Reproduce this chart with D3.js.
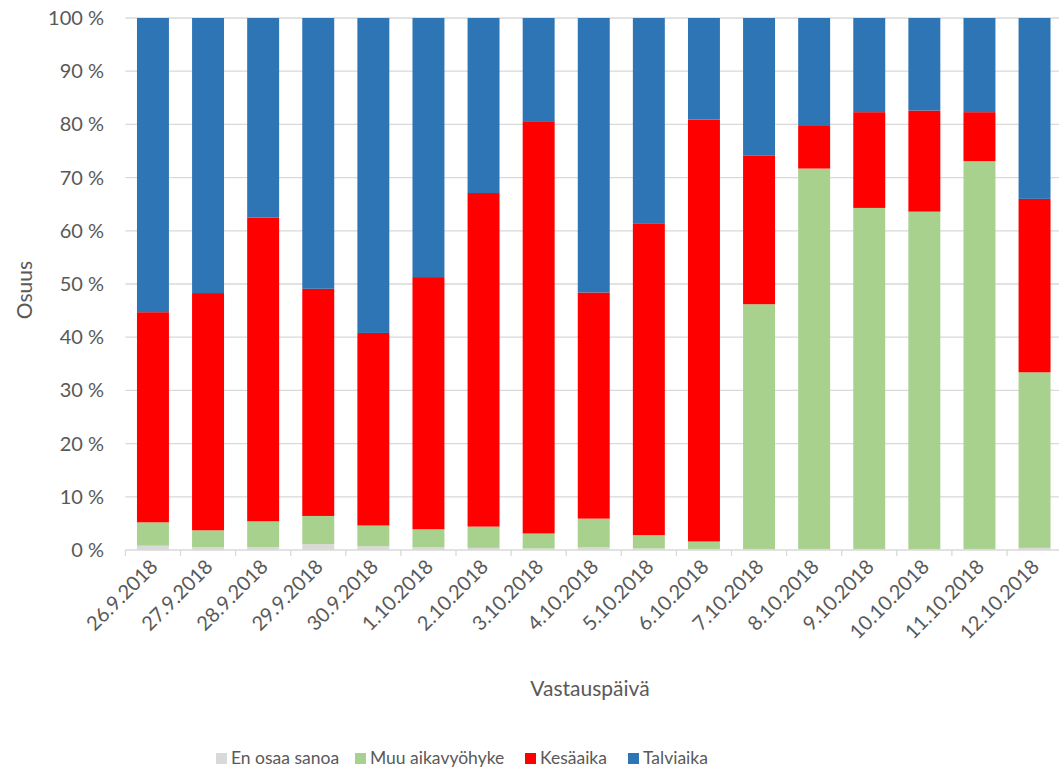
<!DOCTYPE html>
<html><head><meta charset="utf-8">
<script src="https://cdn.jsdelivr.net/npm/d3@7"></script>
<style>body{margin:0;background:#fff}svg{display:block}text{font-family:Lato,"Open Sans",sans-serif;fill:#595959}</style>
</head><body><svg id="c" width="1059" height="772"></svg>
<script>
const categories = ["26.9.2018","27.9.2018","28.9.2018","29.9.2018","30.9.2018","1.10.2018","2.10.2018","3.10.2018","4.10.2018","5.10.2018","6.10.2018","7.10.2018","8.10.2018","9.10.2018","10.10.2018","11.10.2018","12.10.2018"];
const enOsaa = [0.8,0.5,0.5,1.1,0.7,0.5,0.4,0.3,0.5,0.3,0.2,0.2,0.2,0.2,0.2,0.2,0.4];
const muu    = [4.4,3.2,4.9,5.3,3.9,3.4,4.0,2.8,5.4,2.5,1.4,46.0,71.5,64.1,63.4,72.9,33.0];
const kesa   = [39.5,44.6,57.1,42.7,36.2,47.4,62.7,77.5,42.5,58.5,79.3,27.9,8.0,18.0,19.0,9.2,32.6];
const talvi  = [55.3,51.7,37.5,50.9,59.2,48.7,32.9,19.4,51.6,38.7,19.1,25.9,20.3,17.7,17.4,17.7,34.0];
const seriesNames = ["En osaa sanoa","Muu aikavyöhyke","Kesäaika","Talviaika"];
const seriesColors = ["#d9d9d9","#a9d18e","#ff0000","#2e75b6"];
const yTicks = [0,10,20,30,40,50,60,70,80,90,100];

const svg = d3.select("#c");
const m = {l:125.4, t:18, b:550};
const bandW = 55.1;
const x = d3.scaleBand().domain(categories).range([m.l, m.l + bandW*categories.length]).paddingInner(0.42).paddingOuter(0.21);
const y = d3.scaleLinear().domain([0,100]).range([m.b, m.t]);

const data = categories.map((c,i)=>({cat:c, s0:enOsaa[i], s1:muu[i], s2:kesa[i], s3:talvi[i]}));
const stack = d3.stack().keys(["s0","s1","s2","s3"]);
const layers = stack(data);

// gridlines
svg.append("g").selectAll("line").data(yTicks.filter(d=>d>0)).join("line")
  .attr("x1", m.l).attr("x2", 1059).attr("y1", d=>y(d)).attr("y2", d=>y(d))
  .attr("stroke","#d9d9d9").attr("stroke-width",1.3);

// bars
svg.append("g").selectAll("g").data(layers).join("g")
  .attr("fill",(d,i)=>seriesColors[i])
  .selectAll("rect").data(d=>d).join("rect")
  .attr("x", d=>x(d.data.cat)).attr("width", x.bandwidth())
  .attr("y", d=>y(d[1])).attr("height", d=>y(d[0])-y(d[1]));

// y labels
svg.append("g").selectAll("text").data(yTicks).join("text")
  .attr("x", 104).attr("y", d=>y(d)).attr("dy","0.35em").attr("text-anchor","end")
  .attr("font-size", 20).text(d=>d+" %");

// x axis
const xa = svg.append("g").attr("transform",`translate(0,${m.b})`);
xa.append("line").attr("x1", m.l).attr("x2", 1059).attr("y1",0).attr("y2",0).attr("stroke","#d9d9d9").attr("stroke-width",1.3);
xa.selectAll("line.tk").data(categories).join("line").attr("class","tk")
  .attr("x1", d=>x(d)-x.step()*0.21).attr("x2", d=>x(d)-x.step()*0.21).attr("y1",0).attr("y2",6)
  .attr("stroke","#d9d9d9").attr("stroke-width",1.3);
xa.selectAll("text").data(categories).join("text")
  .attr("transform", d=>`translate(${x(d)+x.bandwidth()/2+6},${18}) rotate(-45)`)
  .attr("text-anchor","end").attr("font-size",20).text(d=>d);

// axis titles
svg.append("text").attr("transform","translate(32,290) rotate(-90)").attr("text-anchor","middle").attr("font-size",21).text("Osuus");
svg.append("text").attr("x",590).attr("y",696).attr("text-anchor","middle").attr("font-size",21).text("Vastauspäivä");

// legend
const legX = [216, 355, 525, 628];
const lg = svg.append("g").selectAll("g").data(seriesNames).join("g")
  .attr("transform",(d,i)=>`translate(${legX[i]},758)`);
lg.append("rect").attr("x",0).attr("y",-5).attr("width",11).attr("height",11).attr("fill",(d,i)=>seriesColors[i]);
lg.append("text").attr("x",15).attr("y",0).attr("dy","0.35em").attr("font-size",17.5).text(d=>d);
</script></body></html>
